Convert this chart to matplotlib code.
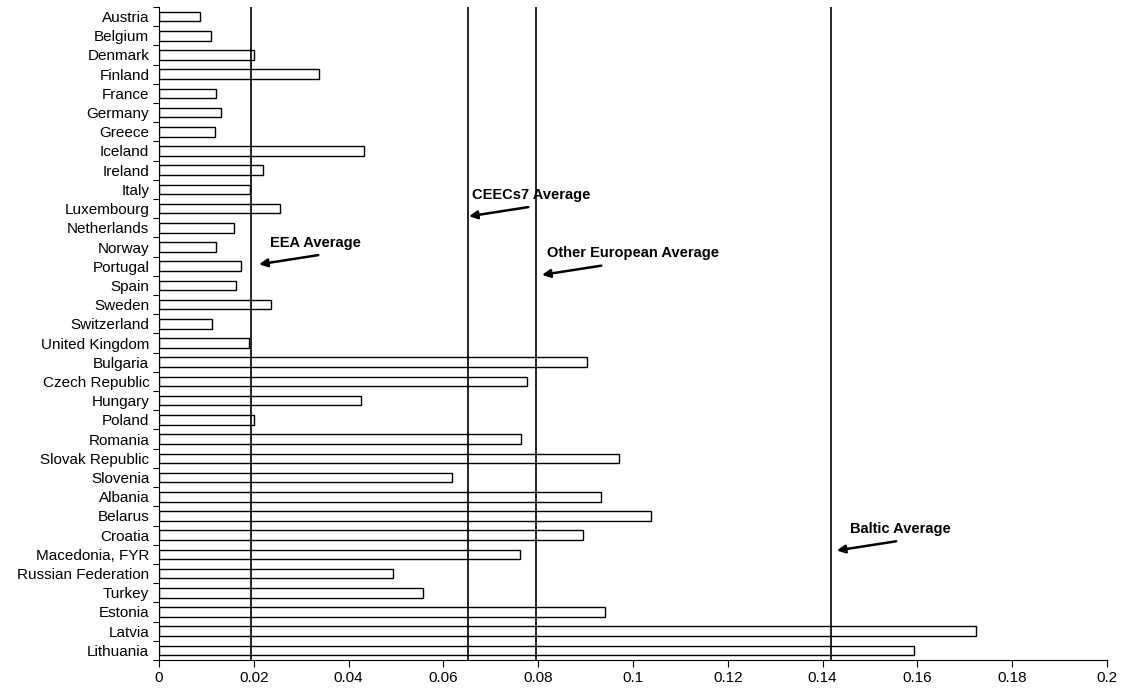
import matplotlib
matplotlib.use("Agg")
import matplotlib.pyplot as plt
import numpy as np

plt.rcParams['font.family'] = ['Liberation Sans', 'DejaVu Sans']

countries = ['Austria', 'Belgium', 'Denmark', 'Finland', 'France', 'Germany', 'Greece',
             'Iceland', 'Ireland', 'Italy', 'Luxembourg', 'Netherlands', 'Norway',
             'Portugal', 'Spain', 'Sweden', 'Switzerland', 'United Kingdom',
             'Bulgaria', 'Czech Republic', 'Hungary', 'Poland', 'Romania',
             'Slovak Republic', 'Slovenia', 'Albania', 'Belarus', 'Croatia',
             'Macedonia, FYR', 'Russian Federation', 'Turkey', 'Estonia', 'Latvia',
             'Lithuania']
values = [0.0087, 0.0110, 0.0200, 0.0337, 0.0121, 0.0130, 0.0118,
          0.0433, 0.0219, 0.0191, 0.0255, 0.0159, 0.0121,
          0.0173, 0.0162, 0.0236, 0.0112, 0.0189,
          0.0903, 0.0776, 0.0426, 0.0200, 0.0764,
          0.0970, 0.0618, 0.0932, 0.1037, 0.0895,
          0.0762, 0.0494, 0.0557, 0.0941, 0.1724,
          0.1593]

avg_labels = ['EEA Average', 'CEECs7 Average', 'Other European Average', 'Baltic Average']
avg_values = [0.0193, 0.0651, 0.0795, 0.1418]
# row position (category units) where each annotation sits
avg_rows = [12.9, 10.4, 13.45, 27.8]
# gap between the line and the arrow head / text start
head_gap = [0.0018, 0.0003, 0.0013, 0.0012]
text_gap = [0.0041, 0.0009, 0.0024, 0.0040]

fig = plt.figure(figsize=(11.28, 6.95), dpi=100)
ax = fig.add_axes([0.141, 0.0504, 0.8404, 0.9396])

y = np.arange(len(countries))
ax.barh(y, values, height=0.5, color='white', edgecolor='black', linewidth=1.0, zorder=2)

for v in avg_values:
    ax.axvline(v, color='black', linewidth=1.2, zorder=3)

for lab, v, r, hg, tg in zip(avg_labels, avg_values, avg_rows, head_gap, text_gap):
    ax.annotate('', xy=(v + hg, r), xytext=(v + hg + 0.0125, r - 0.48),
                arrowprops=dict(arrowstyle='-|>', color='black', lw=1.8,
                                mutation_scale=12, shrinkA=0, shrinkB=0))
    ax.text(v + tg, r - 1.12, lab, fontsize=10.5, fontweight='bold', va='center', ha='left')

ax.set_ylim(len(countries) - 0.5, -0.5)
ax.set_xlim(0, 0.2)
ax.set_yticks(np.arange(len(countries) + 1) - 0.5)
ax.set_yticklabels([])
ax.set_yticks(y, minor=True)
ax.set_yticklabels(countries, minor=True, fontsize=11)
ax.tick_params(axis='y', which='minor', length=0, pad=7)
ax.tick_params(axis='y', which='major', length=4, direction='out')
xt = np.arange(0, 0.201, 0.02)
ax.set_xticks(xt)
ax.set_xticklabels(['0', '0.02', '0.04', '0.06', '0.08', '0.1', '0.12', '0.14',
                    '0.16', '0.18', '0.2'], fontsize=11)
ax.tick_params(axis='x', length=5, direction='out', pad=3)

for s in ['top', 'right']:
    ax.spines[s].set_visible(False)

fig.savefig('out.png', dpi=100)
